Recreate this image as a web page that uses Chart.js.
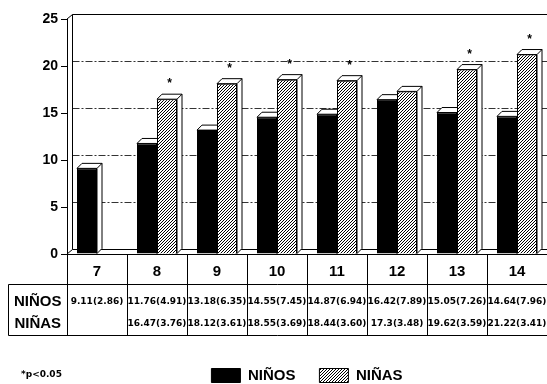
<!DOCTYPE html>
<html>
<head>
<meta charset="utf-8">
<style>
  html, body { margin: 0; padding: 0; background: #fff; }
  canvas { display: block; }
</style>
<script src="https://cdn.jsdelivr.net/npm/chart.js@4.4.1/dist/chart.umd.min.js"></script>
</head>
<body>
<canvas id="grafico" width="547" height="384"></canvas>
<script>
// Edades (años) y medias con su desviación estándar
const edades = ['7', '8', '9', '10', '11', '12', '13', '14'];
const ninosMedia = [9.11, 11.76, 13.18, 14.55, 14.87, 16.42, 15.05, 14.64];
const ninosDE = [2.86, 4.91, 6.35, 7.45, 6.94, 7.89, 7.26, 7.96];
const ninasMedia = [null, 16.47, 18.12, 18.55, 18.44, 17.3, 19.62, 21.22];
const ninasDE = [null, 3.76, 3.61, 3.69, 3.60, 3.48, 3.59, 3.41];
// Diferencia significativa (p<0.05) entre niños y niñas
const significativo = [false, true, true, true, true, false, true, true];
const etiquetasFilas = ['NIÑOS', 'NIÑAS'];
const notaPie = '*p<0.05';

const PROF = 5; // profundidad del efecto 3D
const canvas = document.getElementById('grafico');
const ctx0 = canvas.getContext('2d');

function trama() {
  const c = document.createElement('canvas');
  c.width = 3; c.height = 3;
  const g = c.getContext('2d');
  g.fillStyle = '#fff';
  g.fillRect(0, 0, 3, 3);
  g.strokeStyle = '#000';
  g.lineWidth = 1;
  g.beginPath();
  g.moveTo(0, 3); g.lineTo(3, 0);
  g.moveTo(-1, 1); g.lineTo(1, -1);
  g.moveTo(2, 4); g.lineTo(4, 2);
  g.stroke();
  return ctx0.createPattern(c, 'repeat');
}

function linea(ctx, x1, y1, x2, y2) {
  ctx.beginPath();
  ctx.moveTo(x1, y1);
  ctx.lineTo(x2, y2);
  ctx.stroke();
}

// Pared de fondo, rejilla y caras laterales/superiores de las barras
const efecto3d = {
  id: 'efecto3d',
  beforeDatasetsDraw(chart) {
    const { ctx, chartArea: a, scales: { y } } = chart;
    ctx.save();
    ctx.strokeStyle = '#000';
    ctx.lineWidth = 1;
    const bx = Math.round(a.left + PROF) + 0.5;
    // rejilla punteada en la pared del fondo
    ctx.setLineDash([7, 2, 2, 2]);
    ctx.strokeStyle = '#333';
    y.ticks.forEach(t => {
      if (t.value <= y.min || t.value >= y.max) return;
      const py = Math.round(y.getPixelForValue(t.value) - PROF) + 0.5;
      linea(ctx, bx, py, a.right, py);
    });
    ctx.setLineDash([]);
    ctx.strokeStyle = '#000';
    const topY = Math.round(a.top - PROF) + 0.5;
    const botY = Math.round(a.bottom - PROF) + 0.5;
    linea(ctx, bx, topY, a.right, topY);
    linea(ctx, bx, topY, bx, botY);
    linea(ctx, bx, botY, a.right, botY);
    linea(ctx, a.left, a.top, bx, topY);
    linea(ctx, a.left, a.bottom, bx, botY);

    // caras superior y lateral de cada barra
    chart.data.datasets.forEach((ds, di) => {
      const meta = chart.getDatasetMeta(di);
      meta.data.forEach((bar, i) => {
        if (ds.data[i] == null) return;
        const p = bar.getProps(['x', 'y', 'base', 'width'], true);
        const l = p.x - p.width / 2, r = p.x + p.width / 2;
        ctx.fillStyle = '#fff';
        ctx.beginPath();
        ctx.moveTo(l, p.y);
        ctx.lineTo(l + PROF, p.y - PROF);
        ctx.lineTo(r + PROF, p.y - PROF);
        ctx.lineTo(r + PROF, p.base - PROF);
        ctx.lineTo(r, p.base);
        ctx.lineTo(r, p.y);
        ctx.closePath();
        ctx.fill();
        ctx.stroke();
        linea(ctx, r, p.y, r + PROF, p.y - PROF);
      });
    });
    ctx.restore();
  },
  afterDatasetsDraw(chart) {
    const { ctx } = chart;
    const meta = chart.getDatasetMeta(1);
    ctx.save();
    ctx.fillStyle = '#000';
    ctx.font = 'bold 12px "Liberation Sans"';
    ctx.textAlign = 'center';
    ctx.textBaseline = 'middle';
    meta.data.forEach((bar, i) => {
      if (!significativo[i] || ninasMedia[i] == null) return;
      ctx.fillText('*', bar.x + PROF / 2, bar.y - 15);
    });
    ctx.restore();
  }
};

// Tabla de medias (DE) bajo el eje de edades
const tabla = {
  id: 'tabla',
  afterDraw(chart) {
    const { ctx, chartArea: a, scales: { x } } = chart;
    const n = edades.length;
    const w = x.width / n;
    const bordes = [];
    for (let i = 0; i < n; i++) bordes.push(x.getPixelForValue(i) - w / 2);
    bordes.push(x.getPixelForValue(n - 1) + w / 2);
    const yCab = a.bottom, yFila = 284.5, yFin = 335.5, xIzq = 8.5;
    ctx.save();
    ctx.strokeStyle = '#000';
    ctx.lineWidth = 1;
    linea(ctx, xIzq, yFila, a.right, yFila);
    linea(ctx, xIzq, yFin, a.right, yFin);
    linea(ctx, xIzq, yFila, xIzq, yFin);
    bordes.forEach(b => {
      const bx = Math.round(b) + 0.5;
      linea(ctx, bx, yCab, bx, yFin);
    });
    ctx.fillStyle = '#000';
    ctx.textBaseline = 'middle';
    ctx.textAlign = 'center';
    ctx.font = 'bold 15px "Liberation Sans"';
    const filasY = [302, 324];
    etiquetasFilas.forEach((t, k) => ctx.fillText(t, (xIzq + a.left) / 2, filasY[k]));
    ctx.font = 'bold 9px "DejaVu Sans"';
    const celda = (m, d) => (m == null ? '' : String(m) + '(' + d.toFixed(2) + ')');
    for (let i = 0; i < n; i++) {
      const cx = x.getPixelForValue(i);
      ctx.fillText(celda(ninosMedia[i], ninosDE[i]), cx, filasY[0]);
      ctx.fillText(celda(ninasMedia[i], ninasDE[i]), cx, filasY[1]);
    }
    ctx.textAlign = 'left';
    ctx.fillText(notaPie, 21, 375);
    ctx.restore();
  }
};

Chart.defaults.font.family = '"Liberation Sans", Arial, sans-serif';
Chart.defaults.color = '#000';

new Chart(canvas, {
  type: 'bar',
  data: {
    labels: edades,
    datasets: [
      {
        label: 'NIÑOS',
        data: ninosMedia,
        backgroundColor: '#000',
        borderColor: '#000',
        borderWidth: 1
      },
      {
        label: 'NIÑAS',
        data: ninasMedia,
        backgroundColor: trama(),
        borderColor: '#000',
        borderWidth: 1
      }
    ]
  },
  options: {
    responsive: false,
    animation: false,
    devicePixelRatio: 1,
    layout: { padding: { top: 19, right: 0, bottom: 0, left: 0 } },
    datasets: {
      bar: { categoryPercentage: 0.667, barPercentage: 1.0 }
    },
    scales: {
      x: {
        grid: { display: true, drawOnChartArea: false, drawTicks: false },
        border: { display: true, color: '#000', width: 1 },
        ticks: {
          font: { size: 15, weight: 'bold' },
          padding: 9,
          maxRotation: 0,
          autoSkip: false
        },
        afterFit(scale) { scale.height = 90; }
      },
      y: {
        min: 0,
        max: 25,
        grid: { display: true, drawOnChartArea: false, drawTicks: true, tickLength: 6, color: '#000' },
        border: { display: true, color: '#000', width: 1 },
        ticks: { stepSize: 5, font: { size: 14, weight: 'bold' }, padding: 3 },
        afterFit(scale) { scale.width = 67; }
      }
    },
    plugins: {
      legend: {
        position: 'bottom',
        fullSize: false,
        maxHeight: 40,
        labels: {
          boxWidth: 29,
          boxHeight: 14,
          padding: 24,
          font: { size: 15, weight: 'bold' },
          color: '#000'
        }
      },
      tooltip: { enabled: false }
    }
  },
  plugins: [efecto3d, tabla]
});
</script>
</body>
</html>
